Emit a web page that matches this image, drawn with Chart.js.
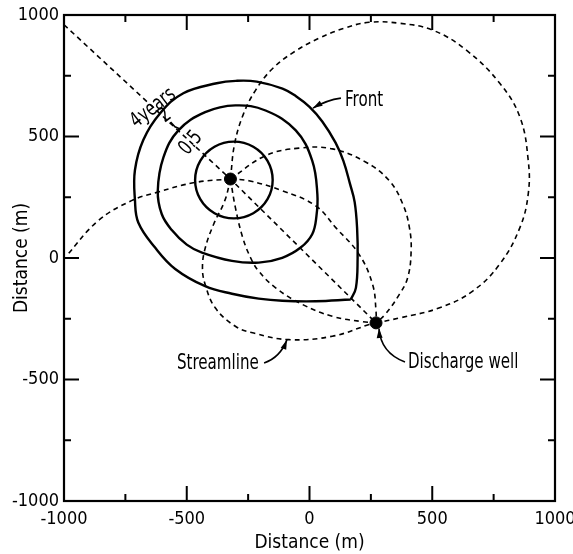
<!DOCTYPE html>
<html>
<head>
<meta charset="utf-8">
<script src="https://cdn.jsdelivr.net/npm/chart.js@4.4.1/dist/chart.umd.min.js"></script>
<style>
  html, body { margin: 0; padding: 0; background: #fff; }
</style>
</head>
<body>
<canvas id="plumeChart" width="573" height="554"></canvas>
<script>
// axis ticks (m)
const tickValues = [-1000, -500, 0, 500, 1000];
const minorTicks = [-750, -250, 250, 750];

// wells
const injectionWell = [[-322, 325]];
const dischargeWell = [[271, -267]];

// travel time fronts
const front05yr = [
  [-150, 321], [-171, 400], [-229, 458], [-308, 479], [-387, 458], [-445, 400],
  [-466, 321], [-445, 242], [-387, 184], [-308, 163], [-229, 184], [-171, 242]
];
const front2yr = [
  [32, 263], [11, 401], [-56, 525], [-179, 607], [-302, 628], [-425, 600],
  [-534, 525], [-595, 414], [-618, 277], [-602, 181], [-561, 115], [-500, 55],
  [-438, 22], [-316, -12], [-207, -19], [-111, 1], [-36, 43], [11, 98], [28, 170]
];
// 4 years = "Front", open curve that starts and ends at the cusp
const front4yr = [
  [168, -171], [189, -123], [196, 0], [194, 120], [184, 230], [165, 305],
  [138, 400], [106, 475], [52, 562], [0, 622], [-55, 666], [-110, 697],
  [-215, 726], [-300, 729], [-378, 719], [-514, 678], [-609, 595], [-677, 486],
  [-711, 362], [-711, 239], [-697, 145], [-629, 43], [-547, -45], [-425, -116],
  [-316, -147], [-207, -167], [-111, -176], [25, -178], [168, -171]
];

// streamlines (dashed)
const streamAxis = [[-1000, 960], [-322, 325], [271, -267]];
const streamNE = [
  [-322, 325], [-305, 470], [-270, 590], [-220, 690], [-150, 780], [-60, 850],
  [40, 905], [140, 945], [243, 970], [366, 966], [501, 938], [639, 855],
  [775, 719], [857, 580], [891, 401], [891, 264], [857, 125], [775, -25],
  [665, -136], [530, -205], [366, -247], [271, -267]
];
const streamE = [
  [-322, 325], [-179, 421], [-43, 452], [93, 449], [230, 394], [325, 318],
  [380, 222], [407, 125], [414, 29], [400, -81], [366, -150], [310, -230], [271, -267]
];
const streamSE = [
  [-322, 325], [-247, 318], [-111, 277], [25, 215], [107, 125], [202, 15],
  [257, -109], [271, -219], [271, -267]
];
const streamS = [
  [-322, 325], [-302, 208], [-272, 84], [-240, 1], [-207, -54], [-138, -123],
  [-29, -191], [93, -240], [216, -262], [271, -267]
];
const streamSW = [
  [-322, 325], [-345, 236], [-390, 140], [-425, 40], [-436, -40], [-425, -109],
  [-384, -205], [-302, -281], [-227, -309], [-84, -336], [93, -322], [243, -274], [271, -267]
];
const streamW = [
  [-322, 325], [-465, 311], [-622, 270], [-725, 236], [-861, 153], [-991, 8]
];

const FONT = '"DejaVu Sans Condensed", "DejaVu Sans", sans-serif';

const toXY = pts => pts.map(([x, y]) => ({ x, y }));

function solid(pts, closed) {
  return { data: toXY(pts), showLine: true, pointRadius: 0, borderColor: '#000',
    borderWidth: 2.4, tension: 0.4, closed: closed, spanGaps: true };
}
function dashed(pts, tension) {
  return { data: toXY(pts), showLine: true, pointRadius: 0, borderColor: '#000',
    borderWidth: 1.6, borderDash: [5, 4], tension: tension };
}
function well(pts) {
  return { data: toXY(pts), pointRadius: 6, pointBackgroundColor: '#000',
    pointBorderColor: '#000', showLine: false };
}

// inward ticks, frame and the hand lettering
const frameAndNotes = {
  id: 'frameAndNotes',
  afterUpdate(chart) {
    // close the 0.5 and 2 year fronts smoothly
    chart.data.datasets.forEach((ds, i) => {
      if (ds.closed) {
        const line = chart.getDatasetMeta(i).dataset;
        line._loop = true;
        line._fullLoop = true;
      }
    });
  },
  afterDatasetsDraw(chart) {
    const { ctx, chartArea: a, scales: { x, y } } = chart;
    const P = (xv, yv) => [x.getPixelForValue(xv), y.getPixelForValue(yv)];
    ctx.save();
    ctx.strokeStyle = '#000';
    ctx.fillStyle = '#000';
    ctx.lineWidth = 2.2;
    ctx.strokeRect(a.left, a.top, a.right - a.left, a.bottom - a.top);
    ctx.lineWidth = 2;
    [-500, 0, 500, ...minorTicks].forEach(v => {
      const len = v % 500 === 0 ? 15 : 7;
      const px = x.getPixelForValue(v), py = y.getPixelForValue(v);
      ctx.beginPath();
      ctx.moveTo(px, a.bottom); ctx.lineTo(px, a.bottom - len);
      ctx.moveTo(px, a.top); ctx.lineTo(px, a.top + len);
      ctx.moveTo(a.left, py); ctx.lineTo(a.left + len, py);
      ctx.moveTo(a.right, py); ctx.lineTo(a.right - len, py);
      ctx.stroke();
    });

    function text(str, xv, yv, rot, align) {
      const [px, py] = P(xv, yv);
      ctx.save();
      ctx.translate(px, py);
      ctx.rotate(rot * Math.PI / 180);
      ctx.scale(0.8, 1);
      ctx.font = '21px ' + FONT;
      ctx.textAlign = align || 'center';
      ctx.textBaseline = 'middle';
      ctx.fillText(str, 0, 0);
      ctx.restore();
    }
    function arrow(from, ctrl, to) {
      const [x0, y0] = P(...from), [cx, cy] = P(...ctrl), [x1, y1] = P(...to);
      ctx.lineWidth = 1.6;
      ctx.beginPath();
      ctx.moveTo(x0, y0);
      ctx.quadraticCurveTo(cx, cy, x1, y1);
      ctx.stroke();
      const ang = Math.atan2(y1 - cy, x1 - cx);
      ctx.beginPath();
      ctx.moveTo(x1, y1);
      ctx.lineTo(x1 - 10 * Math.cos(ang - 0.3), y1 - 10 * Math.sin(ang - 0.3));
      ctx.lineTo(x1 - 10 * Math.cos(ang + 0.3), y1 - 10 * Math.sin(ang + 0.3));
      ctx.closePath();
      ctx.fill();
    }

    text('Front', 145, 650, 0, 'left');
    arrow([128, 658], [70, 650], [14, 617]);
    text('4years', -637, 617, -38);
    text('2', -588, 585, -38);
    ctx.lineWidth = 1.6;
    ctx.beginPath();
    let p = P(-566, 560); ctx.moveTo(p[0], p[1]);
    p = P(-548, 540); ctx.lineTo(p[0], p[1]);
    p = P(-527, 531); ctx.lineTo(p[0], p[1]);
    ctx.stroke();
    text('0.5', -483, 473, -50);
    text('Streamline', -540, -436, 0, 'left');
    arrow([-185, -432], [-120, -410], [-92, -337]);
    text('Discharge well', 401, -432, 0, 'left');
    arrow([389, -428], [290, -390], [283, -290]);
    ctx.restore();
  }
};

const ctx = document.getElementById('plumeChart').getContext('2d');
const plumeChart = new Chart(ctx, {
  type: 'scatter',
  data: {
    datasets: [
      dashed(streamAxis, 0),
      dashed(streamNE, 0.4),
      dashed(streamE, 0.4),
      dashed(streamSE, 0.4),
      dashed(streamS, 0.4),
      dashed(streamSW, 0.4),
      dashed(streamW, 0.4),
      solid(front05yr, true),
      solid(front2yr, true),
      solid(front4yr, false),
      well(injectionWell),
      well(dischargeWell)
    ]
  },
  options: {
    responsive: false,
    animation: false,
    events: [],
    layout: { padding: { top: 15, right: 18, left: 0, bottom: 0 } },
    plugins: { legend: { display: false }, tooltip: { enabled: false } },
    scales: {
      x: {
        type: 'linear', min: -1000, max: 1000,
        afterBuildTicks: s => { s.ticks = tickValues.map(v => ({ value: v })); },
        afterFit: s => { s.height = 53; s.paddingLeft = 0; s.paddingRight = 0; },
        ticks: { font: { family: FONT, size: 18 }, color: '#000', maxRotation: 0, padding: 8,
          callback: v => String(v) },
        grid: { display: false, drawTicks: false },
        border: { display: false },
        title: { display: true, text: 'Distance (m)', color: '#000',
          font: { family: FONT, size: 19 }, padding: { top: 0, bottom: 0 } }
      },
      y: {
        type: 'linear', min: -1000, max: 1000,
        afterBuildTicks: s => { s.ticks = tickValues.map(v => ({ value: v })); },
        afterFit: s => { s.width = 64; s.paddingTop = 0; s.paddingBottom = 0; },
        ticks: { font: { family: FONT, size: 18 }, color: '#000', padding: 5,
          callback: v => String(v) },
        grid: { display: false, drawTicks: false },
        border: { display: false },
        title: { display: true, text: 'Distance (m)', color: '#000',
          font: { family: FONT, size: 19 }, padding: { top: 11, bottom: 0 } }
      }
    }
  },
  plugins: [frameAndNotes]
});
</script>
</body>
</html>
